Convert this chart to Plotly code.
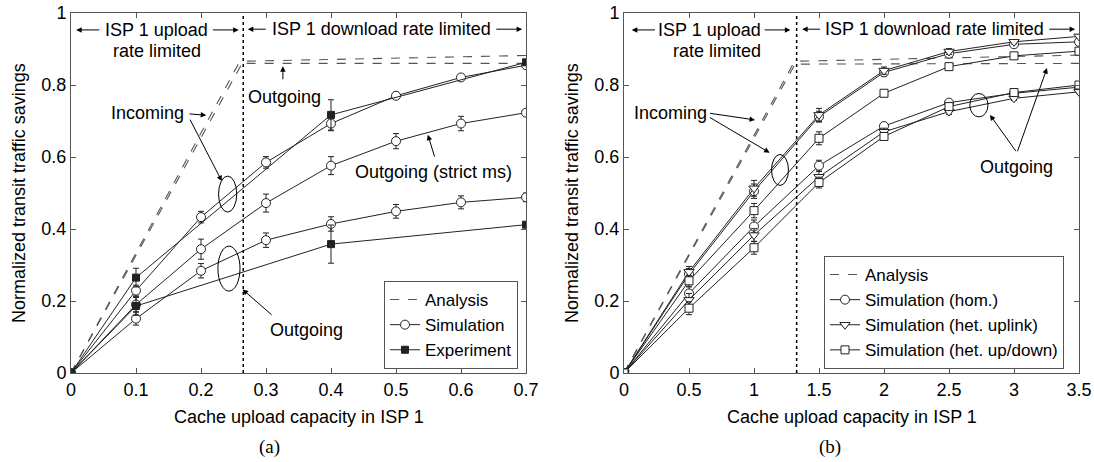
import plotly.graph_objects as go

FONT = "Liberation Sans, Arial, Helvetica, sans-serif"
SERIF = "Liberation Serif, Times New Roman, serif"

# ---------------- Panel (a) data ----------------
a_x = [0, 0.1, 0.2, 0.3, 0.4, 0.5, 0.6, 0.7]
a_in_sim = [0, 0.229, 0.433, 0.585, 0.693, 0.770, 0.821, 0.855]
a_in_sim_err = [0, 0.015, 0.016, 0.016, 0.02, 0.01, 0.008, 0.006]
a_strict_sim = [0, 0.19, 0.344, 0.472, 0.576, 0.644, 0.693, 0.723]
a_strict_err = [0, 0.02, 0.028, 0.025, 0.025, 0.021, 0.02, 0.006]
a_out_sim = [0, 0.151, 0.284, 0.369, 0.414, 0.449, 0.474, 0.488]
a_out_err = [0, 0.018, 0.02, 0.02, 0.02, 0.019, 0.018, 0.012]
a_exp_x = [0, 0.1, 0.4, 0.7]
a_in_exp = [0, 0.265, 0.717, 0.863]
a_in_exp_err = [0, 0.026, 0.042, 0.005]
a_out_exp = [0, 0.186, 0.358, 0.412]
a_out_exp_err = [0, 0.026, 0.053, 0.005]
a_ana_in_x = [0, 0.265, 0.7]
a_ana_in = [0, 0.866, 0.882]
a_ana_out_x = [0, 0.258, 0.7]
a_ana_out = [0, 0.86, 0.86]
a_xticks = [0, 0.1, 0.2, 0.3, 0.4, 0.5, 0.6, 0.7]
a_xticktext = ["0", "0.1", "0.2", "0.3", "0.4", "0.5", "0.6", "0.7"]
a_boundary = 0.265

# ---------------- Panel (b) data ----------------
b_x = [0, 0.5, 1, 1.5, 2, 2.5, 3, 3.5]
b_hom_in = [0, 0.275, 0.505, 0.712, 0.835, 0.887, 0.913, 0.92]
b_hetup_in = [0, 0.281, 0.513, 0.717, 0.840, 0.893, 0.92, 0.935]
b_hetud_in = [0, 0.256, 0.451, 0.652, 0.777, 0.851, 0.881, 0.894]
b_hom_out = [0, 0.221, 0.407, 0.576, 0.686, 0.751, 0.777, 0.794]
b_hetup_out = [0, 0.203, 0.383, 0.545, 0.670, 0.726, 0.763, 0.781]
b_hetud_out = [0, 0.18, 0.348, 0.529, 0.657, 0.740, 0.779, 0.80]
b_err_hom_in = [0, 0.015, 0.02, 0.015, 0.01, 0.008, 0.006, 0.005]
b_err_hetup_in = [0, 0.015, 0.022, 0.018, 0.01, 0.008, 0.006, 0.005]
b_err_hetud_in = [0, 0.015, 0.02, 0.018, 0.008, 0.006, 0.005, 0.005]
b_err_hom_out = [0, 0.018, 0.018, 0.015, 0.01, 0.008, 0.006, 0.005]
b_err_hetup_out = [0, 0.018, 0.018, 0.015, 0.01, 0.008, 0.006, 0.005]
b_err_hetud_out = [0, 0.018, 0.018, 0.015, 0.01, 0.008, 0.006, 0.005]
b_ana_in_x = [0, 1.328, 3.5]
b_ana_in = [0, 0.866, 0.883]
b_ana_out_x = [0, 1.30, 3.5]
b_ana_out = [0, 0.858, 0.86]
b_xticks = [0, 0.5, 1, 1.5, 2, 2.5, 3, 3.5]
b_xticktext = ["0", "0.5", "1", "1.5", "2", "2.5", "3", "3.5"]
b_boundary = 1.328

y_ticks = [0, 0.2, 0.4, 0.6, 0.8, 1]
y_ticktext = ["0", "0.2", "0.4", "0.6", "0.8", "1"]

LINE_C = "#222222"
ANA_C = "#555555"

fig = go.Figure()


def err(arr):
    return dict(type="data", array=arr, visible=True, thickness=1, width=3, color=LINE_C)


def sim_trace(x, y, e, symbol, xa, ya, name, legend, show, fill="white", size=9):
    return go.Scatter(
        x=x, y=y, mode="lines+markers", name=name, legend=legend, showlegend=show,
        xaxis=xa, yaxis=ya,
        line=dict(color=LINE_C, width=1),
        marker=dict(symbol=symbol, size=size, color=fill, line=dict(color=LINE_C, width=1)),
        error_y=err(e),
    )


def ana_trace(x, y, xa, ya, legend, show):
    return go.Scatter(
        x=x, y=y, mode="lines", name="Analysis", legend=legend, showlegend=show,
        xaxis=xa, yaxis=ya, line=dict(color=ANA_C, width=1.1, dash="dash"),
    )


# Panel (a) traces
fig.add_trace(ana_trace(a_ana_in_x, a_ana_in, "x", "y", "legend", True))
fig.add_trace(ana_trace(a_ana_out_x, a_ana_out, "x", "y", "legend", False))
fig.add_trace(sim_trace(a_x, a_in_sim, a_in_sim_err, "circle", "x", "y", "Simulation", "legend", True))
fig.add_trace(sim_trace(a_x, a_strict_sim, a_strict_err, "circle", "x", "y", "Simulation", "legend", False))
fig.add_trace(sim_trace(a_x, a_out_sim, a_out_err, "circle", "x", "y", "Simulation", "legend", False))
fig.add_trace(sim_trace(a_exp_x, a_in_exp, a_in_exp_err, "square", "x", "y", "Experiment", "legend", True, fill=LINE_C, size=7))
fig.add_trace(sim_trace(a_exp_x, a_out_exp, a_out_exp_err, "square", "x", "y", "Experiment", "legend", False, fill=LINE_C, size=7))

# Panel (b) traces
fig.add_trace(ana_trace(b_ana_in_x, b_ana_in, "x2", "y2", "legend2", True))
fig.add_trace(ana_trace(b_ana_out_x, b_ana_out, "x2", "y2", "legend2", False))
fig.add_trace(sim_trace(b_x, b_hom_in, b_err_hom_in, "circle", "x2", "y2", "Simulation (hom.)", "legend2", True))
fig.add_trace(sim_trace(b_x, b_hetup_in, b_err_hetup_in, "triangle-down", "x2", "y2", "Simulation (het. uplink)", "legend2", True))
fig.add_trace(sim_trace(b_x, b_hetud_in, b_err_hetud_in, "square", "x2", "y2", "Simulation (het. up/down)", "legend2", True, size=8))
fig.add_trace(sim_trace(b_x, b_hom_out, b_err_hom_out, "circle", "x2", "y2", "Simulation (hom.)", "legend2", False))
fig.add_trace(sim_trace(b_x, b_hetup_out, b_err_hetup_out, "triangle-down", "x2", "y2", "Simulation (het. uplink)", "legend2", False))
fig.add_trace(sim_trace(b_x, b_hetud_out, b_err_hetud_out, "square", "x2", "y2", "Simulation (het. up/down)", "legend2", False, size=8))

W, H = 1094, 462
ydom = [(H - 373) / H, (H - 13) / H]

axis_common = dict(
    showline=True, linecolor="#555555", linewidth=1, mirror="ticks",
    ticks="inside", ticklen=5, tickcolor="#555555", showgrid=False, zeroline=False,
    automargin=False,
    tickfont=dict(size=18, color="black", family=FONT),
)

shapes = []
annotations = []


def arrow(xa, ya, tail, head):
    annotations.append(dict(
        xref=xa, yref=ya, axref=xa, ayref=ya,
        x=head[0], y=head[1], ax=tail[0], ay=tail[1], text="",
        showarrow=True, arrowhead=2, arrowsize=1.1, arrowwidth=1, arrowcolor="black",
    ))


def label(xa, ya, x, y, text, size=18):
    annotations.append(dict(
        xref=xa, yref=ya, x=x, y=y, text=text, showarrow=False,
        font=dict(size=size, color="black", family=FONT), xanchor="center", yanchor="middle",
    ))


def ellipse(xa, ya, cx, cy, w, h):
    shapes.append(dict(type="circle", xref=xa, yref=ya, x0=cx - w / 2, x1=cx + w / 2,
                       y0=cy - h / 2, y1=cy + h / 2, line=dict(color="black", width=1)))


# dotted boundaries
for xa, ya, bx in (("x", "y", a_boundary), ("x2", "y2", b_boundary)):
    shapes.append(dict(type="line", xref=xa, yref=ya, x0=bx, x1=bx, y0=0, y1=1,
                       line=dict(color="black", width=1.5, dash="dot")))

# ---- Panel (a) annotations ----
label("x", "y", 0.131, 0.953, "ISP 1 upload")
label("x", "y", 0.133, 0.895, "rate limited")
arrow("x", "y", (0.046, 0.953), (0.008, 0.953))
arrow("x", "y", (0.216, 0.953), (0.258, 0.953))
label("x", "y", 0.477, 0.955, "ISP 1 download rate limited")
arrow("x", "y", (0.302, 0.955), (0.272, 0.955))
arrow("x", "y", (0.652, 0.955), (0.694, 0.955))
label("x", "y", 0.118, 0.722, "Incoming")
arrow("x", "y", (0.180, 0.720), (0.208, 0.716))
arrow("x", "y", (0.182, 0.708), (0.232, 0.533))
ellipse("x", "y", 0.241, 0.497, 0.028, 0.10)
label("x", "y", 0.329, 0.767, "Outgoing")
arrow("x", "y", (0.326, 0.812), (0.326, 0.852))
label("x", "y", 0.557, 0.558, "Outgoing (strict ms)")
arrow("x", "y", (0.560, 0.597), (0.549, 0.662))
ellipse("x", "y", 0.243, 0.29, 0.034, 0.125)
label("x", "y", 0.363, 0.12, "Outgoing")
arrow("x", "y", (0.311, 0.158), (0.264, 0.232))

# ---- Panel (b) annotations ----
label("x2", "y2", 0.66, 0.953, "ISP 1 upload")
label("x2", "y2", 0.715, 0.895, "rate limited")
arrow("x2", "y2", (0.25, 0.953), (0.06, 0.953))
arrow("x2", "y2", (1.07, 0.953), (1.28, 0.953))
label("x2", "y2", 2.385, 0.955, "ISP 1 download rate limited")
arrow("x2", "y2", (1.52, 0.955), (1.37, 0.955))
arrow("x2", "y2", (3.26, 0.955), (3.47, 0.955))
label("x2", "y2", 0.354, 0.722, "Incoming")
arrow("x2", "y2", (0.65, 0.722), (1.008, 0.703))
arrow("x2", "y2", (0.65, 0.712), (1.12, 0.612))
ellipse("x2", "y2", 1.2, 0.564, 0.13, 0.086)
label("x2", "y2", 3.016, 0.573, "Outgoing")
arrow("x2", "y2", (3.023, 0.612), (2.815, 0.717))
arrow("x2", "y2", (3.023, 0.612), (3.254, 0.847))
ellipse("x2", "y2", 2.73, 0.744, 0.14, 0.065)

# axis titles & captions (paper coords)
for xc in (19 / W, 572 / W):
    annotations.append(dict(xref="paper", yref="paper", x=xc, y=1 - 193 / H, showarrow=False,
                            text="Normalized transit traffic savings", textangle=-90,
                            font=dict(size=18, color="black", family=FONT),
                            xanchor="center", yanchor="middle"))
for xc in (298.5 / W, 851.5 / W):
    annotations.append(dict(xref="paper", yref="paper", x=xc, y=1 - 417 / H, showarrow=False,
                            text="Cache upload capacity in ISP 1",
                            font=dict(size=18, color="black", family=FONT),
                            xanchor="center", yanchor="middle"))
for xc, t in ((269 / W, "(a)"), (830 / W, "(b)")):
    annotations.append(dict(xref="paper", yref="paper", x=xc, y=1 - 447 / H, showarrow=False,
                            text=t, font=dict(size=19, color="black", family=SERIF),
                            xanchor="center", yanchor="middle"))

legend_common = dict(
    bgcolor="white", bordercolor="#555555", borderwidth=1,
    font=dict(size=17, color="black", family=FONT),
    xanchor="left", yanchor="bottom", tracegroupgap=0, itemwidth=30,
)

fig.update_layout(
    width=W, height=H, autosize=False,
    margin=dict(l=0, r=0, t=0, b=0, pad=0, autoexpand=False),
    paper_bgcolor="white", plot_bgcolor="white",
    font=dict(family=FONT, size=18, color="black"),
    xaxis=dict(domain=[71 / W, 526 / W], range=[0, 0.7], anchor="y",
               tickvals=a_xticks, ticktext=a_xticktext, **axis_common),
    yaxis=dict(domain=ydom, range=[0, 1], anchor="x",
               tickvals=y_ticks, ticktext=y_ticktext, **axis_common),
    xaxis2=dict(domain=[624 / W, 1079 / W], range=[0, 3.5], anchor="y2",
                tickvals=b_xticks, ticktext=b_xticktext, **axis_common),
    yaxis2=dict(domain=ydom, range=[0, 1], anchor="x2",
                tickvals=y_ticks, ticktext=y_ticktext, **axis_common),
    legend=dict(x=384 / W, y=1 - 369 / H, **legend_common),
    legend2=dict(x=824 / W, y=1 - 369 / H, **legend_common),
    shapes=shapes,
    annotations=annotations,
)

fig.write_html("out.html", config={"displayModeBar": False},
               post_script="document.body.style.margin='0';")
